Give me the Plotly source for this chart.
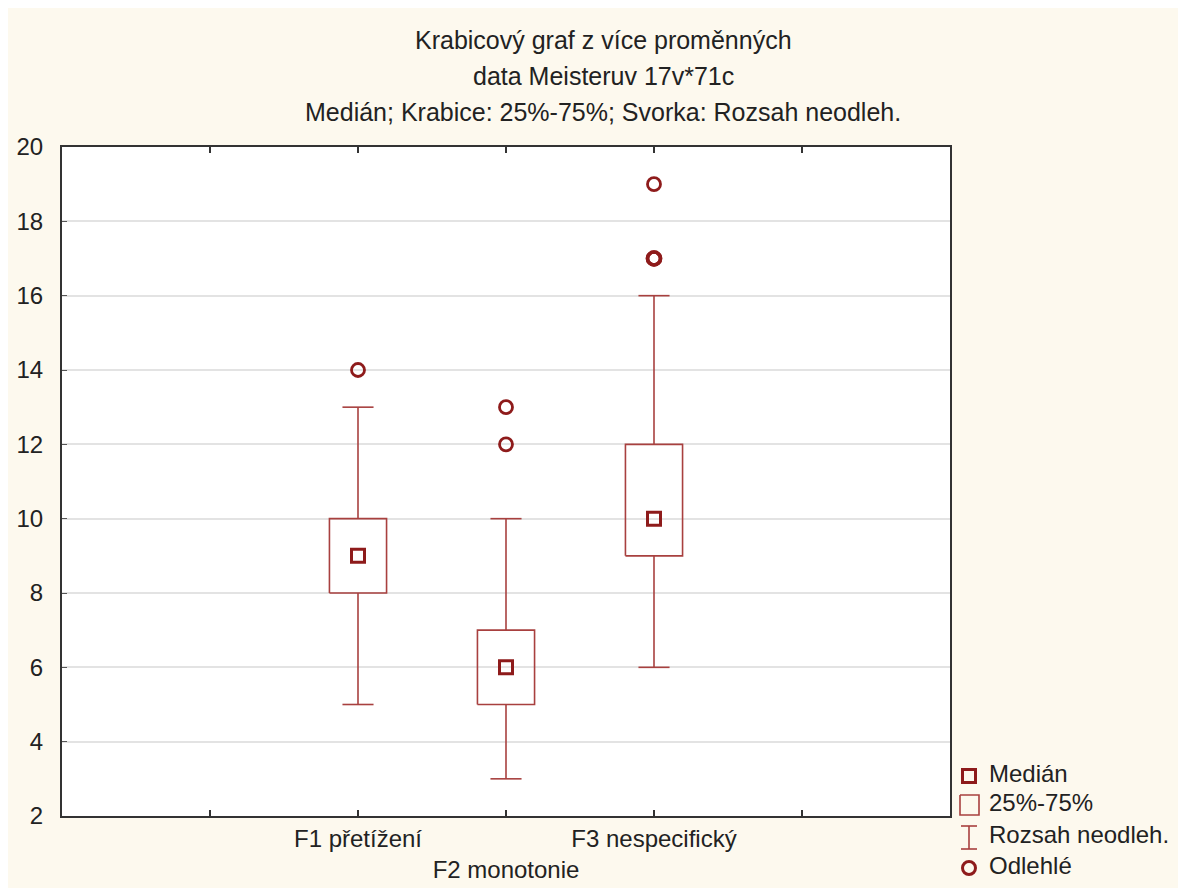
import plotly.graph_objects as go

# ---- data ----
categories = ["F1 přetížení", "F2 monotonie", "F3 nespecifický"]
positions = [2, 3, 4]
medians = [9, 6, 10]
q1 = [8, 5, 9]
q3 = [10, 7, 12]
whisker_low = [5, 3, 6]
whisker_high = [13, 10, 16]
outliers = [[14], [12, 13], [17, 17, 19]]
y_ticks = [2, 4, 6, 8, 10, 12, 14, 16, 18, 20]
title_lines = ["Krabicový graf z více proměnných",
               "data Meisteruv 17v*71c",
               "Medián; Krabice: 25%-75%; Svorka: Rozsah neodleh."]
legend_labels = ["Medián", "25%-75%", "Rozsah neodleh.", "Odlehlé"]

FONT = "Liberation Sans Narrow, Arial Narrow, Liberation Sans, Arial, sans-serif"
FS = 24
LINE_C = "#a8403f"
MARK_C = "#8e1b1b"
TXT_C = "#222222"
CREAM = "#fdf9ee"

W, H = 1186, 888
OFF = 8  # page body margin offset of the figure
ML, MT = 62 - OFF, 147 - OFF
plot_right, plot_bottom = 950 - OFF, 816 - OFF
pw = W - ML
ph = H - MT

box_hw = 0.193
cap_hw = 0.105

fig = go.Figure()

# boxes
bx, by = [], []
for p, lo, hi in zip(positions, q1, q3):
    bx += [p - box_hw, p + box_hw, p + box_hw, p - box_hw, p - box_hw, None]
    by += [lo, lo, hi, hi, lo, None]
fig.add_trace(go.Scatter(x=bx, y=by, mode="lines", line=dict(color=LINE_C, width=1.6),
                         showlegend=False, hoverinfo="skip"))

# whiskers
wx, wy = [], []
for p, wl, lo, hi, wh in zip(positions, whisker_low, q1, q3, whisker_high):
    wx += [p, p, None, p, p, None, p - cap_hw, p + cap_hw, None, p - cap_hw, p + cap_hw, None]
    wy += [wl, lo, None, hi, wh, None, wl, wl, None, wh, wh, None]
fig.add_trace(go.Scatter(x=wx, y=wy, mode="lines", line=dict(color=LINE_C, width=1.6),
                         showlegend=False, hoverinfo="skip"))

# medians
fig.add_trace(go.Scatter(x=positions, y=medians, mode="markers",
                         marker=dict(symbol="square-open", size=13, color=MARK_C,
                                     line=dict(color=MARK_C, width=3)),
                         showlegend=False))

# outliers
ox, oy, ow = [], [], []
for p, outs in zip(positions, outliers):
    for v in outs:
        ox.append(p)
        oy.append(v)
        ow.append(3.6 if outs.count(v) > 1 else 2.8)
fig.add_trace(go.Scatter(x=ox, y=oy, mode="markers",
                         marker=dict(symbol="circle-open", size=13, color=MARK_C,
                                     line=dict(color=MARK_C, width=ow)),
                         showlegend=False))

# ---- custom legend on a second axis pair measured in pixels ----
lx0 = 955 - OFF
ly_top, ly_bot = 756 - OFF, 884 - OFF
leg_y = [776 - OFF, 805 - OFF, 837 - OFF, 868 - OFF]
lxc = 969 - OFF
fig.add_trace(go.Scatter(x=[lxc], y=[leg_y[0]], mode="markers", xaxis="x2", yaxis="y2",
                         marker=dict(symbol="square-open", size=13, color=MARK_C,
                                     line=dict(color=MARK_C, width=3)),
                         showlegend=False, hoverinfo="skip"))
fig.add_trace(go.Scatter(x=[lxc - 9, lxc + 10, lxc + 10, lxc - 9, lxc - 9],
                         y=[leg_y[1] - 10, leg_y[1] - 10, leg_y[1] + 10, leg_y[1] + 10, leg_y[1] - 10],
                         mode="lines", xaxis="x2", yaxis="y2",
                         line=dict(color=LINE_C, width=1.6), showlegend=False, hoverinfo="skip"))
fig.add_trace(go.Scatter(x=[lxc - 8, lxc + 8, None, lxc, lxc, None, lxc - 8, lxc + 8],
                         y=[leg_y[2] - 11, leg_y[2] - 11, None, leg_y[2] - 11, leg_y[2] + 12, None,
                            leg_y[2] + 12, leg_y[2] + 12],
                         mode="lines", xaxis="x2", yaxis="y2",
                         line=dict(color=LINE_C, width=1.6), showlegend=False, hoverinfo="skip"))
fig.add_trace(go.Scatter(x=[lxc], y=[leg_y[3]], mode="markers", xaxis="x2", yaxis="y2",
                         marker=dict(symbol="circle-open", size=13, color=MARK_C,
                                     line=dict(color=MARK_C, width=3)),
                         showlegend=False, hoverinfo="skip"))
fig.add_trace(go.Scatter(x=[lxc + 20] * 4, y=leg_y, mode="text", text=legend_labels,
                         textposition="middle right", xaxis="x2", yaxis="y2",
                         textfont=dict(family=FONT, size=FS, color=TXT_C),
                         showlegend=False, hoverinfo="skip"))

# titles (paper y measured from the bottom of the figure)
annotations = []
for t, py in zip(title_lines, [40 - OFF, 76 - OFF, 112 - OFF]):
    annotations.append(dict(text=t, x=(603 - OFF - ML) / pw, y=(H - py) / ph,
                            xref="paper", yref="paper", showarrow=False,
                            xanchor="center", yanchor="middle",
                            font=dict(family=FONT, size=25, color=TXT_C)))

shapes = [
    # white plot area
    dict(type="rect", xref="x domain", yref="y domain", x0=0, x1=1, y0=0, y1=1,
         fillcolor="white", line=dict(width=0), layer="below"),
]

fig.update_layout(
    width=W, height=H,
    margin=dict(l=ML, r=0, t=MT, b=0, pad=0, autoexpand=False),
    paper_bgcolor=CREAM, plot_bgcolor=CREAM,
    font=dict(family=FONT, size=FS, color=TXT_C),
    xaxis=dict(domain=[0, (plot_right - ML) / pw], range=[0, 6],
               tickvals=[1, 2, 3, 4, 5],
               ticktext=["", categories[0], "<br>" + categories[1], categories[2], ""],
               tickangle=0, automargin=False,
               ticks="inside", ticklen=6, tickwidth=1.5, tickcolor="#333",
               showline=True, linecolor="#333", linewidth=2, mirror="ticks",
               showgrid=False, zeroline=False, fixedrange=True,
               tickfont=dict(family=FONT, size=FS, color=TXT_C)),
    yaxis=dict(domain=[(H - plot_bottom) / ph, 1], range=[2, 20], automargin=False,
               tickvals=y_ticks, ticks="inside", ticklen=5, tickwidth=1.2, tickcolor="#555",
               showline=True, linecolor="#333", linewidth=2, mirror=True,
               showgrid=True, gridcolor="#e3e3e3", gridwidth=1.5, zeroline=False,
               ticklabelstandoff=12,
               tickfont=dict(family=FONT, size=FS, color=TXT_C)),
    xaxis2=dict(domain=[(lx0 - ML) / pw, 1], range=[lx0, W], visible=False,
                fixedrange=True, anchor="y2"),
    yaxis2=dict(domain=[(H - ly_bot) / ph, (H - ly_top) / ph], range=[ly_bot, ly_top],
                visible=False, anchor="x2", fixedrange=True),
    annotations=annotations,
    shapes=shapes,
)

fig.write_html("out.html")
